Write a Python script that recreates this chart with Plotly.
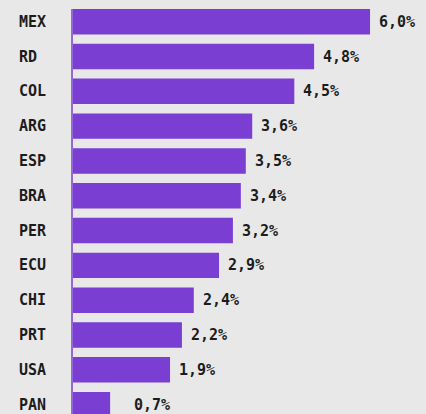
import plotly.graph_objects as go

countries = ["MEX", "RD", "COL", "ARG", "ESP", "BRA", "PER", "ECU", "CHI", "PRT", "USA", "PAN"]
values = [6.0, 4.87, 4.47, 3.62, 3.49, 3.39, 3.23, 2.95, 2.44, 2.2, 1.96, 0.75]
labels = ["6,0%", "4,8%", "4,5%", "3,6%", "3,5%", "3,4%", "3,2%", "2,9%", "2,4%", "2,2%", "1,9%", "0,7%"]

BAR = "#7a3ed3"
BG = "#e8e8e8"
TXT = "#1c1c1c"
FONT = "DejaVu Sans Mono"

fig = go.Figure(go.Bar(
    x=values, y=countries, orientation="h",
    marker=dict(color=BAR, line=dict(width=0)),
    hoverinfo="skip",
))

ann = []
for c, v, t in zip(countries, values, labels):
    ann.append(dict(x=max(v, 1.05), y=c, xref="x", yref="y", text="<b>%s</b>" % t,
                    showarrow=False, xanchor="left", xshift=7,
                    font=dict(family=FONT, size=15, color=TXT)))
    ann.append(dict(x=0, y=c, xref="paper", yref="y", text="<b>%s</b>" % c,
                    showarrow=False, xanchor="left", xshift=-56,
                    font=dict(family=FONT, size=15, color=TXT)))

fig.update_layout(
    width=426, height=414,
    margin=dict(l=73, r=0, t=9, b=0),
    paper_bgcolor=BG, plot_bgcolor=BG,
    bargap=0.27,
    showlegend=False,
    annotations=ann,
    xaxis=dict(range=[0, 7.13], showgrid=False, zeroline=False, showticklabels=False, fixedrange=True),
    yaxis=dict(range=[11.27, -0.365], showgrid=False, zeroline=False, showticklabels=False,
               showline=True, linecolor="#9468dc", linewidth=2, fixedrange=True),
)

fig.write_html("out.html", config={"displayModeBar": False},
               post_script="document.body.style.margin='0';document.body.style.overflow='hidden';document.body.style.background='%s';" % BG)
